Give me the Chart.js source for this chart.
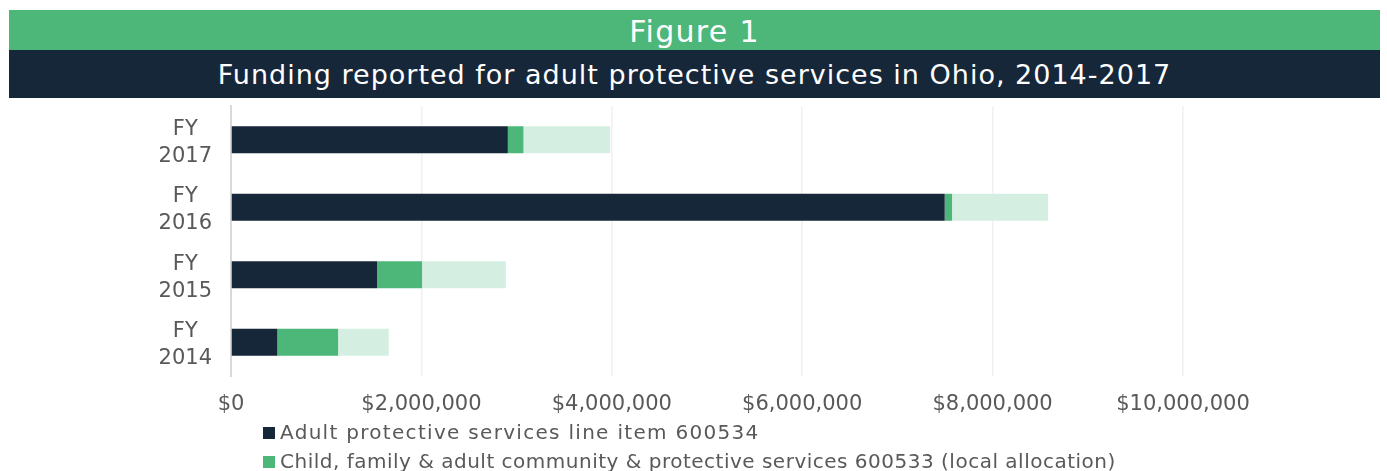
<!DOCTYPE html>
<html>
<head>
<meta charset="utf-8">
<script src="https://cdn.jsdelivr.net/npm/chart.js@4.4.0/dist/chart.umd.min.js"></script>
<style>
    body {
        margin: 0;
        width: 1387px;
        height: 471px;
        background: #fff;
        font-family: 'DejaVu Sans', sans-serif;
        position: relative;
        overflow: hidden;
    }
    .fig-label {
        position: absolute;
        left: 9px;
        top: 10px;
        width: 1371px;
        height: 40px;
        background: #4db679;
        color: #fff;
        font-size: 30px;
        letter-spacing: 1.3px;
        line-height: 44px;
        text-align: center;
    }
    .fig-title {
        position: absolute;
        left: 9px;
        top: 50px;
        width: 1371px;
        height: 48px;
        background: #17273a;
        color: #fff;
        font-size: 27px;
        letter-spacing: 1px;
        line-height: 50px;
        text-align: center;
    }
    .chart-wrap {
        position: absolute;
        left: 0;
        top: 98px;
        width: 1387px;
        height: 373px;
    }
    .legend {
        position: absolute;
        left: 263px;
        top: 419px;
        color: #595959;
        font-size: 20px;
    }
    .legend div {
        height: 28.5px;
        line-height: 26px;
        white-space: nowrap;
    }
    .legend span {
        display: inline-block;
        width: 12px;
        height: 12px;
        margin-right: 5px;
        vertical-align: 0px;
    }
</style>
</head>
<body>
<div class="fig-label">Figure 1</div>
<div class="fig-title">Funding reported for adult protective services in Ohio, 2014-2017</div>
<div class="chart-wrap"><canvas id="chart" width="1387" height="373"></canvas></div>
<div class="legend" id="legend"></div>
<script>
    // fiscal years, top to bottom
    const years = [['FY', '2017'], ['FY', '2016'], ['FY', '2015'], ['FY', '2014']];

    const seriesNames = [
        'Adult protective services line item 600534',
        'Child, family & adult community & protective services 600533 (local allocation)',
        'Other funding'
    ];

    const lineItem600534 = [2908000, 7497000, 1534000, 487000];
    const localAllocation600533 = [164000, 77000, 473000, 638000];
    const otherFunding = [911000, 1009000, 880000, 532000];

    const xTicks = [0, 2000000, 4000000, 6000000, 8000000, 10000000];

    const colors = ['#17273a', '#4db679', '#d4efe2'];
    // the original font is wider than DejaVu, stretch each legend row a bit
    const legendSpacing = ['1.3px', '0.5px'];

    const money = v => '$' + v.toLocaleString('en-US');

    const ctx = document.getElementById('chart').getContext('2d');
    new Chart(ctx, {
        type: 'bar',
        data: {
            labels: years,
            datasets: [lineItem600534, localAllocation600533, otherFunding].map((d, i) => ({
                label: seriesNames[i],
                data: d,
                backgroundColor: colors[i],
                barPercentage: 0.4,
                categoryPercentage: 1
            }))
        },
        options: {
            indexAxis: 'y',
            responsive: false,
            animation: false,
            layout: {
                padding: { top: 8, right: 204, bottom: 0, left: 0 }
            },
            plugins: {
                legend: { display: false },
                tooltip: { enabled: false }
            },
            scales: {
                x: {
                    stacked: true,
                    min: 0,
                    max: 10000000,
                    afterBuildTicks: axis => {
                        axis.ticks = xTicks.map(v => ({ value: v }));
                    },
                    afterFit: axis => {
                        axis.height = 95;
                        axis.paddingLeft = 0;
                        axis.paddingRight = 0;
                    },
                    grid: {
                        drawTicks: false,
                        color: c => c.index === 0 ? 'rgba(0,0,0,0)' : '#f0f0f6',
                        lineWidth: 1.5
                    },
                    border: { display: false },
                    ticks: {
                        color: '#595959',
                        font: { family: 'DejaVu Sans', size: 21 },
                        padding: 16,
                        maxRotation: 0,
                        callback: v => money(v)
                    }
                },
                y: {
                    stacked: true,
                    afterFit: axis => {
                        axis.width = 231;
                        // multi line labels would otherwise push the plot down
                        axis.paddingTop = 0;
                        axis.paddingBottom = 0;
                    },
                    grid: { display: false, drawTicks: false },
                    border: { display: true, color: '#d9d9d9', width: 2 },
                    ticks: {
                        color: '#595959',
                        crossAlign: 'center',
                        padding: 19,
                        labelOffset: 3,
                        font: { family: 'DejaVu Sans', size: 21, lineHeight: 1.3 }
                    }
                }
            }
        }
    });

    // excel legend, third entry falls below the cropped picture
    const legend = document.getElementById('legend');
    seriesNames.slice(0, 2).forEach((name, i) => {
        const row = document.createElement('div');
        row.style.letterSpacing = legendSpacing[i];
        row.innerHTML = '<span style="background:' + colors[i] + '"></span>' + name;
        legend.appendChild(row);
    });
</script>
</body>
</html>
